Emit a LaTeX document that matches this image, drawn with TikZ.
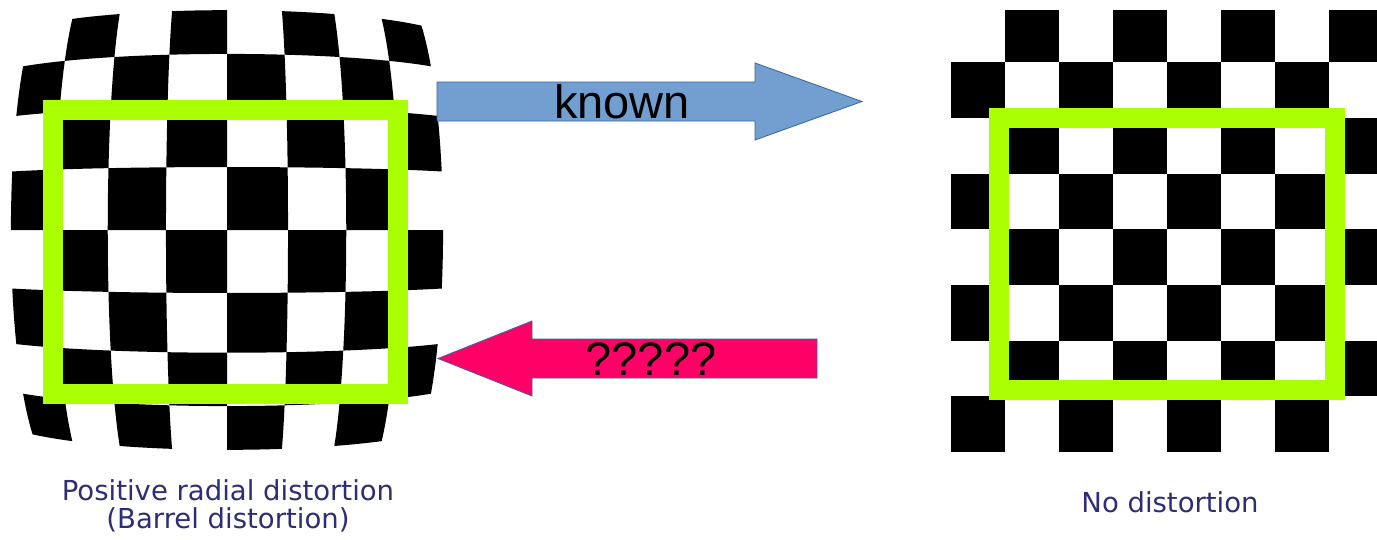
\documentclass[tikz,border=0pt]{standalone}
\usepackage{fontspec}
\setmainfont{Liberation Sans}
\newfontfamily\captionfont{DejaVu Sans}
\definecolor{knownBlue}{RGB}{114,159,207}
\definecolor{edgeBlue}{RGB}{52,101,164}
\definecolor{unknownPink}{RGB}{255,0,102}
\definecolor{frameGreen}{RGB}{170,255,0}
\definecolor{captionBlue}{RGB}{45,45,120}

\begin{document}
\begin{tikzpicture}[x=1pt,y=-1pt,%%
  cellStyle/.style={fill=black},%%
  frameStyle/.style={draw=frameGreen,line width=20pt},%%
  arrowStyle/.style={draw=edgeBlue,line width=0.8pt},%%
  labelStyle/.style={font=\fontsize{47}{56}\selectfont,inner sep=0pt},%%
  captionStyle/.style={font=\captionfont\fontsize{27.5}{28}\selectfont,text=captionBlue,align=center,inner sep=0pt},%%
  %% barrel map of the left board, (u,v) in cells from its centre
  declare function={bx(\u,\v)=227+61.5*\u*(1-0.0076*\u*\u)*(1-0.00625*\v*\v);
                    by(\u,\v)=230+63.5*\v*(1-0.0084*\v*\v)*(1-0.0044*\u*\u);}%%
]
%%
\useasboundingbox[fill=white] (0,0) rectangle (1377,539);
%%
\pgfmathsetmacro{\cw}{54}     %% width of a cell, right board
\pgfmathsetmacro{\ch}{55.7}   %% height of a cell, right board
\pgfmathsetmacro{\rxlow}{951}
\pgfmathsetmacro{\rylow}{6.5}
\pgfmathsetmacro{\kxhead}{755} %% where the head of the upper arrow starts
\pgfmathsetmacro{\uxhead}{532} %% where the head of the lower arrow starts
%%
%% The distorted board.
\foreach \col in {0,...,7} {
  \foreach \row in {0,...,7} {
    \pgfmathtruncatemacro{\odd}{mod(\col+\row,2)}
    \ifnum\odd=1
      \pgfmathsetmacro{\ulow}{\col-4}
      \pgfmathsetmacro{\uhigh}{\col-3}
      \pgfmathsetmacro{\vlow}{\row-4}
      \pgfmathsetmacro{\vhigh}{\row-3}
      \fill[cellStyle]
        plot[domain=\ulow:\uhigh,samples=6] ({bx(\x,\vlow)},{by(\x,\vlow)})
        -- plot[domain=\vlow:\vhigh,samples=6] ({bx(\uhigh,\x)},{by(\uhigh,\x)})
        -- plot[domain=\uhigh:\ulow,samples=6] ({bx(\x,\vhigh)},{by(\x,\vhigh)})
        -- plot[domain=\vhigh:\vlow,samples=6] ({bx(\ulow,\x)},{by(\ulow,\x)})
        -- cycle;
    \fi
  }
}
%%
%% The flat board.
\begin{scope}
\clip (\rxlow,10) rectangle (1377,453);
\foreach \col in {0,...,7} {
  \foreach \row in {0,...,7} {
    \pgfmathtruncatemacro{\odd}{mod(\col+\row,2)}
    \ifnum\odd=1
      \fill[cellStyle] (\rxlow+\col*\cw,\rylow+\row*\ch) rectangle ++(\cw,\ch);
    \fi
  }
}
\end{scope}
%%
%% The green frames.
\draw[frameStyle] (53,110) rectangle (398,394);
\draw[frameStyle] (999,118) rectangle (1335,390);
%%
%% Coordinates for the upper arrow.
\coordinate (kTailTop) at (437,82);
\coordinate (kTailBottom) at (437,121);
\coordinate (kTip) at (862,101.5);
%% Coordinates for the lower arrow.
\coordinate (uTailTop) at (817,339);
\coordinate (uTailBottom) at (817,378);
\coordinate (uTip) at (438,358.5);
%%
%% Draw the upper arrow.
\fill[knownBlue,arrowStyle] (kTailTop) -- (\kxhead,82) -- (\kxhead,63) -- (kTip)
  -- (\kxhead,140) -- (\kxhead,121) -- (kTailBottom) -- cycle;
\node[labelStyle,anchor=base] (knownLabel) at (622,118) {known};
%%
%% Draw the lower arrow.
\fill[unknownPink,arrowStyle] (uTailTop) -- (\uxhead,339) -- (\uxhead,321) -- (uTip)
  -- (\uxhead,396) -- (\uxhead,378) -- (uTailBottom) -- cycle;
\node[labelStyle,anchor=base] (unknownLabel) at (651,375) {?????};
%%
%% The captions.
\node[captionStyle,anchor=base] (barrelCaption) at (228,528)
  {Positive radial distortion\\(Barrel distortion)};
\node[captionStyle,anchor=base] (flatCaption) at (1170,512) {No distortion};
\end{tikzpicture}
\end{document}
